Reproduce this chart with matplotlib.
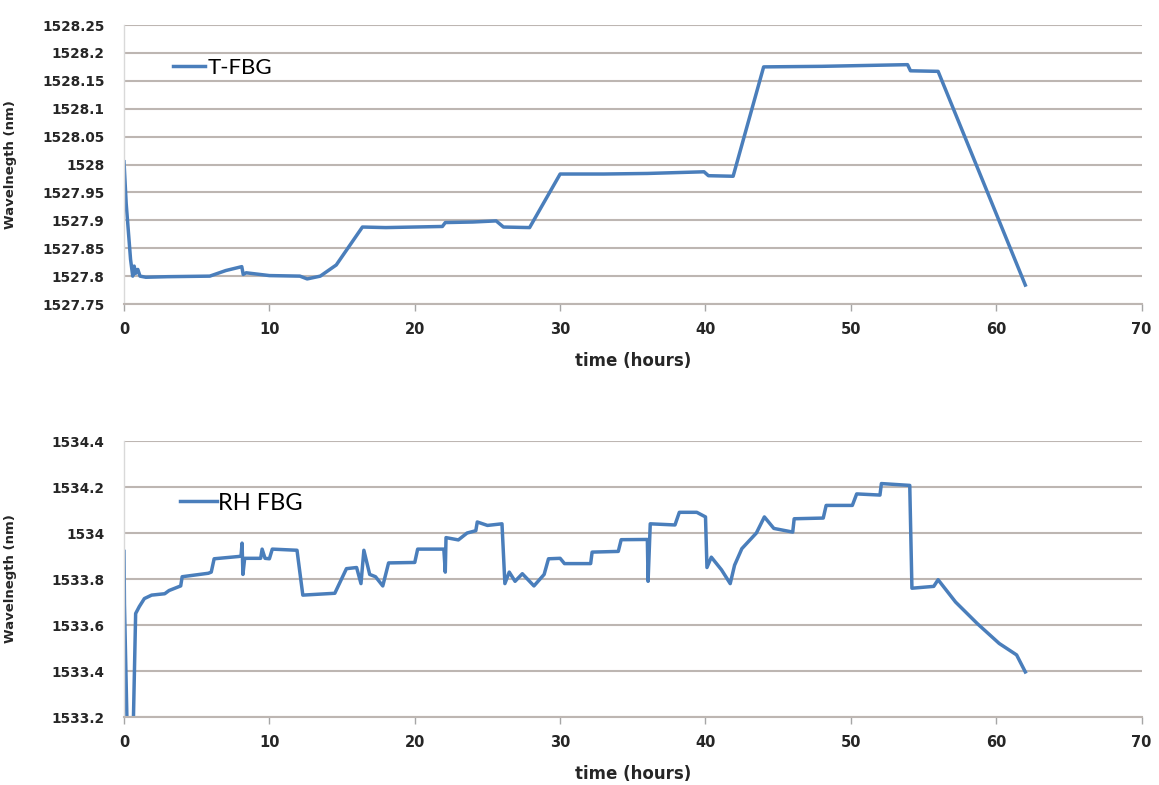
import matplotlib
matplotlib.use("Agg")
import matplotlib.pyplot as plt

plt.rcParams['font.family'] = ['DejaVu Sans']

# T-FBG wavelength vs time
t_hours = [0, 0.15, 0.45, 0.6, 0.7, 0.8, 0.95, 1.1, 1.5, 3.0, 5.9, 7.0, 8.1, 8.2, 8.4,
           10.0, 12.1, 12.6, 13.5, 14.6, 16.4, 18.0, 21.9, 22.1, 24.0, 25.6, 26.1,
           27.9, 30.0, 33.0, 36.0, 39.9, 40.2, 41.9, 44.0, 48.0, 53.9, 54.1, 56.0, 62.0]
t_wl = [1528.005, 1527.93, 1527.83, 1527.80, 1527.818, 1527.805, 1527.812, 1527.80,
        1527.798, 1527.799, 1527.80, 1527.81, 1527.817, 1527.803, 1527.806,
        1527.801, 1527.80, 1527.795, 1527.80, 1527.82, 1527.888, 1527.887, 1527.889,
        1527.896, 1527.897, 1527.899, 1527.888, 1527.887, 1527.983, 1527.983,
        1527.984, 1527.987, 1527.98, 1527.979, 1528.175, 1528.176, 1528.179,
        1528.168, 1528.167, 1527.784]

# RH FBG wavelength vs time
rh_hours = [0, 0.03, 0.3, 0.55, 0.8, 1.05, 1.4, 1.9, 2.8, 3.1, 3.7, 3.9, 4.0, 5.8, 6.0,
            6.2, 7.9, 8.05, 8.12, 8.18, 8.3, 9.4, 9.5, 9.7, 10.0, 10.2, 11.9, 12.3,
            14.5, 15.3, 16.0, 16.3, 16.5, 16.9, 17.3, 17.8, 18.2, 20.0, 20.2, 22.0,
            22.1, 22.15, 23.0, 23.6, 24.2, 24.3, 25.0, 26.0, 26.2, 26.5, 26.9, 27.4,
            28.2, 28.9, 29.2, 30.0, 30.3, 32.1, 32.2, 34.0, 34.2, 36.0, 36.05, 36.2,
            37.9, 38.2, 39.4, 40.0, 40.1, 40.4, 41.1, 41.7, 42.0, 42.5, 43.5, 44.05,
            44.7, 46.0, 46.1, 48.1, 48.3, 50.1, 50.4, 52.0, 52.1, 54.05, 54.2, 55.7,
            56.0, 57.2, 58.7, 60.2, 61.4, 62.0]
rh_wl = [1533.92, 1533.69, 1532.9, 1532.9, 1533.65, 1533.68, 1533.715, 1533.73,
         1533.736, 1533.75, 1533.765, 1533.77, 1533.81, 1533.825, 1533.83, 1533.888,
         1533.898, 1533.90, 1533.956, 1533.82, 1533.89, 1533.89, 1533.93, 1533.89,
         1533.888, 1533.93, 1533.925, 1533.73, 1533.738, 1533.845, 1533.85, 1533.78,
         1533.925, 1533.82, 1533.81, 1533.77, 1533.87, 1533.872, 1533.93, 1533.93,
         1533.83, 1533.98, 1533.97, 1534.0, 1534.01, 1534.048, 1534.033, 1534.04,
         1533.78, 1533.83, 1533.79, 1533.823, 1533.77, 1533.82, 1533.888, 1533.89,
         1533.867, 1533.867, 1533.917, 1533.92, 1533.971, 1533.972, 1533.79, 1534.04,
         1534.035, 1534.09, 1534.09, 1534.07, 1533.85, 1533.895, 1533.84, 1533.78,
         1533.86, 1533.932, 1534.0, 1534.07, 1534.02, 1534.004, 1534.062, 1534.065,
         1534.12, 1534.12, 1534.17, 1534.165, 1534.215, 1534.207, 1533.76, 1533.768,
         1533.797, 1533.70, 1533.606, 1533.52, 1533.47, 1533.396]

x_ticks = [0, 10, 20, 30, 40, 50, 60, 70]
t_yticks = [1527.75, 1527.8, 1527.85, 1527.9, 1527.95, 1528.0, 1528.05, 1528.1,
            1528.15, 1528.2, 1528.25]
rh_yticks = [1533.2, 1533.4, 1533.6, 1533.8, 1534.0, 1534.2, 1534.4]

line_color = '#4a7ebb'
grid_color = '#bdb6b2'
text_color = '#262626'

fig = plt.figure(figsize=(11.59, 7.85), dpi=100)
ax1 = fig.add_axes([0.107, 0.6127, 0.878, 0.3554])
ax2 = fig.add_axes([0.107, 0.0866, 0.878, 0.3516])


def style_axes(ax, yticks, ylabels):
    ax.set_xlim(0, 70)
    ax.set_ylim(yticks[0], yticks[-1])
    ax.set_xticks(x_ticks)
    ax.set_yticks(yticks)
    ax.set_yticklabels(ylabels)
    ax.grid(axis='y', color=grid_color, linewidth=1.5)
    ax.set_axisbelow(True)
    for side in ('top', 'right'):
        ax.spines[side].set_visible(False)
    ax.spines['left'].set_color('#d9d9d9')
    ax.spines['left'].set_linewidth(1.0)
    ax.spines['bottom'].set_color(grid_color)
    ax.spines['bottom'].set_linewidth(1.5)
    ax.tick_params(axis='y', length=0, pad=14, labelsize=9.8, labelcolor=text_color)
    ax.tick_params(axis='x', length=5, width=1, color='#a6a6a6', pad=8,
                   labelsize=10.5, labelcolor=text_color)
    for lab in ax.get_xticklabels() + ax.get_yticklabels():
        lab.set_fontweight('bold')
    ax.set_xlabel('time (hours)', fontsize=12, fontweight='bold', color=text_color,
                  labelpad=11)
    ax.set_ylabel('Wavelnegth (nm)', fontsize=9.5, fontweight='bold', color=text_color)
    ax.yaxis.set_label_coords(-0.105, 0.5)


ax1.plot(t_hours, t_wl, color=line_color, linewidth=2.5, label='T-FBG')
style_axes(ax1, t_yticks, ['1527.75', '1527.8', '1527.85', '1527.9', '1527.95', '1528',
                           '1528.05', '1528.1', '1528.15', '1528.2', '1528.25'])
ax1.legend(loc='center left', bbox_to_anchor=(0.048, 0.846), frameon=False,
           handlelength=1.45, handletextpad=0.1, borderpad=0, borderaxespad=0,
           prop={'family': 'Lato', 'size': 16})

ax2.plot(rh_hours, rh_wl, color=line_color, linewidth=2.5, label='RH FBG')
style_axes(ax2, rh_yticks, ['1533.2', '1533.4', '1533.6', '1533.8', '1534', '1534.2',
                            '1534.4'])
ax2.legend(loc='center left', bbox_to_anchor=(0.055, 0.775), frameon=False,
           handlelength=1.55, handletextpad=0.05, borderpad=0, borderaxespad=0,
           prop={'family': 'Lato', 'size': 17})

fig.savefig('out.png', dpi=100, facecolor='white')
